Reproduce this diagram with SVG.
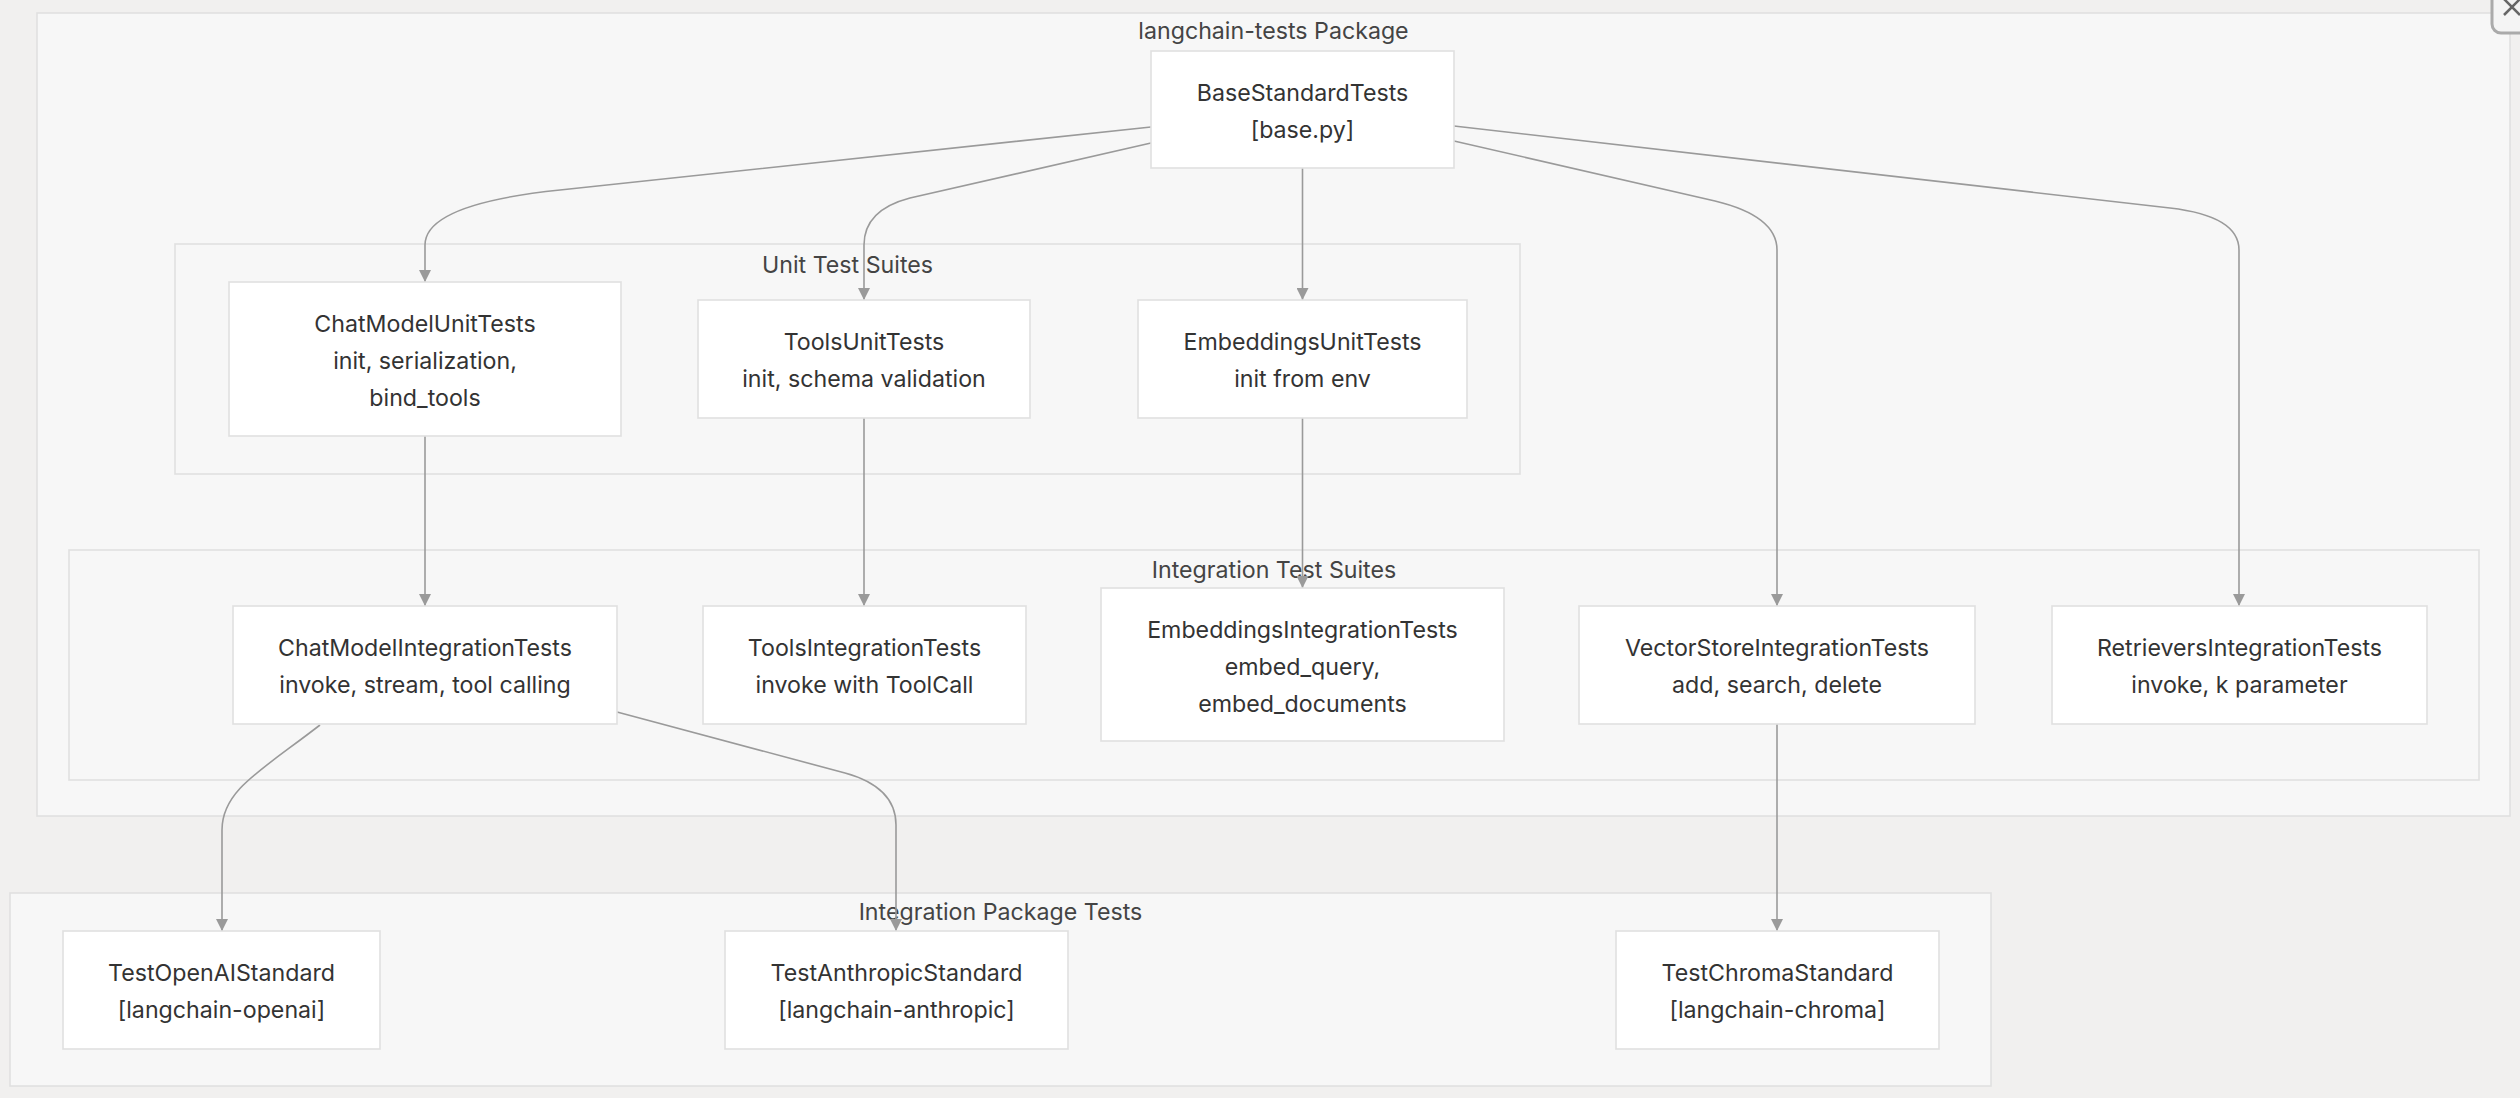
<svg xmlns="http://www.w3.org/2000/svg" width="2520" height="1098" viewBox="0 0 2520 1098">
<defs>
<style>
.cluster{fill:#f7f7f7;stroke:#e0e0e0;stroke-width:1.6}
.node rect{fill:#ffffff;stroke:#e0e0e0;stroke-width:1.6}
text{font-family:Inter,"Liberation Sans",Arial,sans-serif;font-size:23.2px;fill:#333333;text-anchor:middle}
.ctitle{fill:#444444}
.edge{fill:none;stroke:#9a9a9a;stroke-width:1.6}
</style>
<marker id="arrow" viewBox="0 0 10 10" refX="10" refY="5" markerWidth="12" markerHeight="12" markerUnits="userSpaceOnUse" orient="auto">
<path d="M0,0 L10,5 L0,10 z" fill="#9a9a9a"/>
</marker>
</defs>
<rect x="0" y="0" width="2520" height="1098" fill="#f1f0ef"/>

<g id="clusters">
<g id="cluster-langchain-tests">
<rect class="cluster" x="37" y="13" width="2473" height="803"/>
<text class="ctitle" x="1273.5" y="39">langchain-tests Package</text>
</g>
<g id="cluster-unit">
<rect class="cluster" x="175" y="244" width="1345" height="230"/>
<text class="ctitle" x="847.5" y="273">Unit Test Suites</text>
</g>
<g id="cluster-integration">
<rect class="cluster" x="69" y="550" width="2410" height="230"/>
<text class="ctitle" x="1274" y="578">Integration Test Suites</text>
</g>
<g id="cluster-packages">
<rect class="cluster" x="10" y="893" width="1981" height="193"/>
<text class="ctitle" x="1000.5" y="920">Integration Package Tests</text>
</g>
</g>

<g id="edges">
<path class="edge" marker-end="url(#arrow)" d="M1151,127 L560,190 Q425,204 425,245 L425,282"/>
<path class="edge" marker-end="url(#arrow)" d="M1151,143 L910,198 Q864,210 864,245 L864,300"/>
<path class="edge" marker-end="url(#arrow)" d="M1302.5,168 L1302.5,300"/>
<path class="edge" marker-end="url(#arrow)" d="M1454,141 L1715,201 Q1777,216 1777,250 L1777,606"/>
<path class="edge" marker-end="url(#arrow)" d="M1454,126 L2170,208 Q2239,216 2239,250 L2239,606"/>
<path class="edge" marker-end="url(#arrow)" d="M425,436 L425,606"/>
<path class="edge" marker-end="url(#arrow)" d="M864,418 L864,606"/>
<path class="edge" marker-end="url(#arrow)" d="M1302.5,418 L1302.5,588"/>
<path class="edge" marker-end="url(#arrow)" d="M320,725 C262,770 222,790 222,830 L222,931"/>
<path class="edge" marker-end="url(#arrow)" d="M617,712 L845,773 Q896,787 896,825 L896,931"/>
<path class="edge" marker-end="url(#arrow)" d="M1777,724 L1777,931"/>
</g>

<g id="node-BaseStandardTests" class="node">
<rect x="1151" y="51" width="303" height="117"/>
<text x="1302.5" y="101">BaseStandardTests</text>
<text x="1302.5" y="138">[base.py]</text>
</g>
<g id="node-ChatModelUnitTests" class="node">
<rect x="229" y="282" width="392" height="154"/>
<text x="425" y="332">ChatModelUnitTests</text>
<text x="425" y="369">init, serialization,</text>
<text x="425" y="406">bind_tools</text>
</g>
<g id="node-ToolsUnitTests" class="node">
<rect x="698" y="300" width="332" height="118"/>
<text x="864" y="350">ToolsUnitTests</text>
<text x="864" y="387">init, schema validation</text>
</g>
<g id="node-EmbeddingsUnitTests" class="node">
<rect x="1138" y="300" width="329" height="118"/>
<text x="1302.5" y="350">EmbeddingsUnitTests</text>
<text x="1302.5" y="387">init from env</text>
</g>
<g id="node-ChatModelIntegrationTests" class="node">
<rect x="233" y="606" width="384" height="118"/>
<text x="425" y="656">ChatModelIntegrationTests</text>
<text x="425" y="693">invoke, stream, tool calling</text>
</g>
<g id="node-ToolsIntegrationTests" class="node">
<rect x="703" y="606" width="323" height="118"/>
<text x="864.5" y="656">ToolsIntegrationTests</text>
<text x="864.5" y="693">invoke with ToolCall</text>
</g>
<g id="node-EmbeddingsIntegrationTests" class="node">
<rect x="1101" y="588" width="403" height="153"/>
<text x="1302.5" y="638">EmbeddingsIntegrationTests</text>
<text x="1302.5" y="675">embed_query,</text>
<text x="1302.5" y="712">embed_documents</text>
</g>
<g id="node-VectorStoreIntegrationTests" class="node">
<rect x="1579" y="606" width="396" height="118"/>
<text x="1777" y="656">VectorStoreIntegrationTests</text>
<text x="1777" y="693">add, search, delete</text>
</g>
<g id="node-RetrieversIntegrationTests" class="node">
<rect x="2052" y="606" width="375" height="118"/>
<text x="2239.5" y="656">RetrieversIntegrationTests</text>
<text x="2239.5" y="693">invoke, k parameter</text>
</g>
<g id="node-TestOpenAIStandard" class="node">
<rect x="63" y="931" width="317" height="118"/>
<text x="221.5" y="981">TestOpenAIStandard</text>
<text x="221.5" y="1018">[langchain-openai]</text>
</g>
<g id="node-TestAnthropicStandard" class="node">
<rect x="725" y="931" width="343" height="118"/>
<text x="896.5" y="981">TestAnthropicStandard</text>
<text x="896.5" y="1018">[langchain-anthropic]</text>
</g>
<g id="node-TestChromaStandard" class="node">
<rect x="1616" y="931" width="323" height="118"/>
<text x="1777.5" y="981">TestChromaStandard</text>
<text x="1777.5" y="1018">[langchain-chroma]</text>
</g>

<g id="corner-button">
<rect x="2492" y="-12" width="44" height="45" rx="9" fill="#f4f4f4" stroke="#aaaaaa" stroke-width="3"/>
<path d="M2504,-1 L2520,15 M2504,15 L2520,-1" stroke="#666666" stroke-width="2.5" fill="none"/>
</g>
</svg>
